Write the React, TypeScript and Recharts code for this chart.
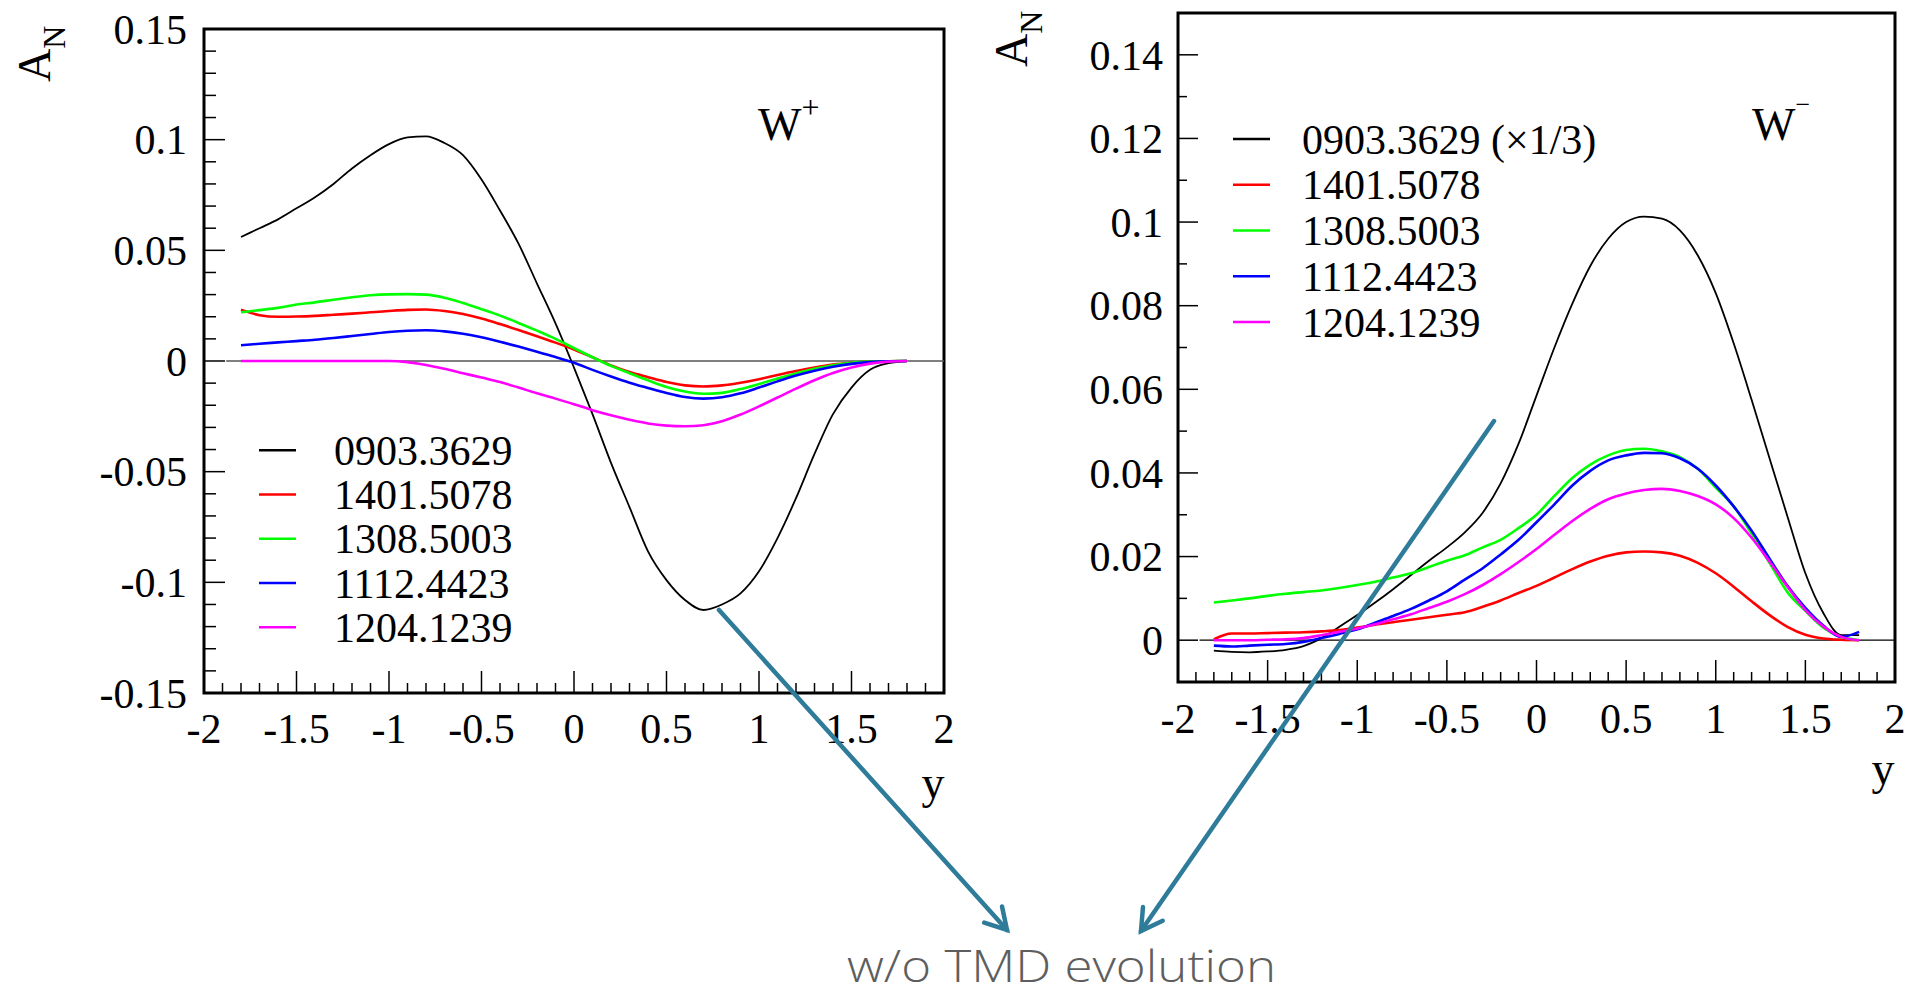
import React from 'react';
import { LineChart, Line, XAxis, YAxis, ReferenceLine, ReferenceArea, Legend, Label } from 'recharts';

// ---------- data ----------
const yRapidity = [-1.8, -1.7, -1.6, -1.5, -1.4, -1.3, -1.2, -1.1, -1.0, -0.9, -0.8, -0.7, -0.6, -0.5, -0.4, -0.3, -0.2, -0.1, 0, 0.1, 0.2, 0.3, 0.4, 0.5, 0.6, 0.7, 0.8, 0.9, 1.0, 1.1, 1.2, 1.3, 1.4, 1.5, 1.6, 1.7, 1.8];

// W+ panel
const wPlus0903 = [0.056, 0.060, 0.064, 0.069, 0.074, 0.080, 0.087, 0.093, 0.098, 0.101, 0.1015, 0.0985, 0.093, 0.082, 0.068, 0.053, 0.035, 0.017, -0.003, -0.024, -0.046, -0.066, -0.086, -0.099, -0.108, -0.1125, -0.110, -0.105, -0.095, -0.080, -0.062, -0.042, -0.024, -0.012, -0.004, -0.001, 0];
const wPlus1401 = [0.0232, 0.0207, 0.0200, 0.0201, 0.0204, 0.0209, 0.0214, 0.0220, 0.0226, 0.0231, 0.0233, 0.0226, 0.0212, 0.0192, 0.0167, 0.0140, 0.0112, 0.0083, 0.0052, 0.0017, -0.0020, -0.0050, -0.0073, -0.0095, -0.0110, -0.0115, -0.0110, -0.0098, -0.0082, -0.0063, -0.0045, -0.0029, -0.0016, -0.0008, -0.0003, -0.0001, 0];
const wPlus1308 = [0.0220, 0.0230, 0.0240, 0.0255, 0.0265, 0.0277, 0.0288, 0.0297, 0.0301, 0.0302, 0.0300, 0.0286, 0.0262, 0.0234, 0.0205, 0.0172, 0.0137, 0.0100, 0.0058, 0.0017, -0.0022, -0.0055, -0.0087, -0.0117, -0.0138, -0.0148, -0.0144, -0.0127, -0.0104, -0.0079, -0.0056, -0.0035, -0.0019, -0.0008, -0.0003, -0.0001, 0];
const wPlus1112 = [0.0071, 0.0078, 0.0084, 0.0090, 0.0096, 0.0104, 0.0113, 0.0122, 0.0131, 0.0137, 0.0139, 0.0134, 0.0123, 0.0107, 0.0087, 0.0065, 0.0042, 0.0018, -0.0008, -0.0040, -0.0070, -0.0098, -0.0122, -0.0145, -0.0163, -0.0170, -0.0164, -0.0146, -0.0120, -0.0092, -0.0066, -0.0044, -0.0026, -0.0013, -0.0005, -0.0001, 0];
const wPlus1204 = [0, 0, 0, 0, 0, 0, 0, 0, 0, -0.0005, -0.0018, -0.0035, -0.0055, -0.0075, -0.0095, -0.0120, -0.0146, -0.0170, -0.0195, -0.0222, -0.0245, -0.0265, -0.0282, -0.0292, -0.0295, -0.0290, -0.0272, -0.0242, -0.0205, -0.0165, -0.0125, -0.0087, -0.0054, -0.0029, -0.0012, -0.0003, 0];

// W- panel
const wMinus0903 = [-0.0025, -0.0028, -0.0029, -0.0027, -0.0023, -0.0014, 0.0005, 0.0032, 0.0060, 0.0090, 0.0122, 0.0156, 0.0190, 0.0222, 0.0258, 0.0305, 0.0375, 0.0470, 0.0585, 0.0700, 0.0805, 0.0895, 0.0960, 0.1000, 0.1013, 0.1008, 0.0980, 0.0920, 0.0830, 0.0710, 0.0575, 0.0435, 0.0296, 0.0160, 0.0065, 0.0012, 0.0012];
const wMinus1401 = [0.0002, 0.0016, 0.0016, 0.0017, 0.0018, 0.0019, 0.0021, 0.0024, 0.0030, 0.0037, 0.0043, 0.0049, 0.0055, 0.0061, 0.0067, 0.0080, 0.0095, 0.0113, 0.0130, 0.0150, 0.0170, 0.0188, 0.0202, 0.0210, 0.0212, 0.0210, 0.0202, 0.0185, 0.0160, 0.0128, 0.0093, 0.0060, 0.0032, 0.0013, 0.0004, 0.0001, 0];
const wMinus1308 = [0.0090, 0.0095, 0.0100, 0.0106, 0.0111, 0.0115, 0.0119, 0.0125, 0.0132, 0.0140, 0.0150, 0.0160, 0.0175, 0.0190, 0.0203, 0.0222, 0.0240, 0.0268, 0.0300, 0.0345, 0.0388, 0.0420, 0.0442, 0.0455, 0.0458, 0.0452, 0.0438, 0.0410, 0.0365, 0.0320, 0.0255, 0.0185, 0.0115, 0.0070, 0.0030, 0.0008, 0];
const wMinus1112 = [-0.0013, -0.0015, -0.0013, -0.0011, -0.0009, -0.0004, 0.0005, 0.0015, 0.0026, 0.0042, 0.0058, 0.0075, 0.0095, 0.0117, 0.0145, 0.0172, 0.0205, 0.0240, 0.0282, 0.0325, 0.0370, 0.0405, 0.0430, 0.0442, 0.0448, 0.0447, 0.0435, 0.0410, 0.0370, 0.0320, 0.0262, 0.0195, 0.0130, 0.0077, 0.0035, 0.0008, 0.0020];
const wMinus1204 = [0, 0, 0, 0.0001, 0.0002, 0.0005, 0.0012, 0.0020, 0.0028, 0.0038, 0.0050, 0.0062, 0.0077, 0.0092, 0.0110, 0.0132, 0.0158, 0.0187, 0.0218, 0.0252, 0.0285, 0.0314, 0.0337, 0.0351, 0.0359, 0.0362, 0.0357, 0.0345, 0.0325, 0.0292, 0.0245, 0.0188, 0.0128, 0.0072, 0.0033, 0.0008, 0];

const seriesKeys = ['s0', 's1', 's2', 's3', 's4'];
const seriesColors = ['#000000', '#ff0000', '#00ff00', '#0000ff', '#ff00ff'];
const seriesWidths = [1.8, 2.6, 2.6, 2.6, 2.6];
const namesPlus = ['0903.3629', '1401.5078', '1308.5003', '1112.4423', '1204.1239'];
const namesMinus = ['0903.3629 (×1/3)', '1401.5078', '1308.5003', '1112.4423', '1204.1239'];

// tick labels
const xMajorValues = [-2, -1.5, -1, -0.5, 0, 0.5, 1, 1.5, 2];
const xMajorLabels = ['-2', '-1.5', '-1', '-0.5', '0', '0.5', '1', '1.5', '2'];
const plusYMajorValues = [-0.15, -0.1, -0.05, 0, 0.05, 0.1, 0.15];
const plusYMajorLabels = ['-0.15', '-0.1', '-0.05', '0', '0.05', '0.1', '0.15'];
const minusYMajorValues = [0, 0.02, 0.04, 0.06, 0.08, 0.1, 0.12, 0.14];
const minusYMajorLabels = ['0', '0.02', '0.04', '0.06', '0.08', '0.1', '0.12', '0.14'];

const xTicks: number[] = [];
for (let i = -20; i <= 20; i++) xTicks.push(i / 10);
const plusYTicks: number[] = [];
for (let i = -15; i <= 15; i++) plusYTicks.push(i / 100);
const minusYTicks: number[] = [];
for (let i = -1; i <= 15; i++) minusYTicks.push(i / 100);

const buildRows = (cols: number[][]) =>
  yRapidity.map((x, i) => {
    const r: any = { x };
    cols.forEach((c, k) => (r[seriesKeys[k]] = c[i]));
    return r;
  });

const plusRows = buildRows([wPlus0903, wPlus1401, wPlus1308, wPlus1112, wPlus1204]);
const minusRows = buildRows([wMinus0903, wMinus1401, wMinus1308, wMinus1112, wMinus1204]);

// ---------- styling helpers ----------
const SERIF = "'Liberation Serif','Times New Roman',serif";
const TICK_FONT = 42;

const findMajor = (majors: number[], v: number) => majors.findIndex((m) => Math.abs(m - v) < 1e-9);

const makeYTick = (majors: number[], labels: string[], majorLen: number, minorLen: number, gap: number) =>
  function YTick(props: any) {
    const { x, y, payload } = props;
    const idx = findMajor(majors, payload.value);
    const len = idx >= 0 ? majorLen : minorLen;
    return (
      <g>
        <line x1={x} y1={y} x2={x + len} y2={y} stroke="#000" strokeWidth={1.5} />
        {idx >= 0 && (
          <text x={x - gap} y={y} dy="0.35em" textAnchor="end" fontFamily={SERIF} fontSize={TICK_FONT} fill="#000">
            {labels[idx]}
          </text>
        )}
      </g>
    );
  };

const makeXTick = (majorLen: number, minorLen: number, baseline: number) =>
  function XTick(props: any) {
    const { x, y, payload } = props;
    const idx = findMajor(xMajorValues, payload.value);
    const len = idx >= 0 ? majorLen : minorLen;
    return (
      <g>
        <line x1={x} y1={y} x2={x} y2={y - len} stroke="#000" strokeWidth={1.5} />
        {idx >= 0 && (
          <text x={x} y={y + baseline} textAnchor="middle" fontFamily={SERIF} fontSize={TICK_FONT} fill="#000">
            {xMajorLabels[idx]}
          </text>
        )}
      </g>
    );
  };

const makeLegend = (pitch: number, lineLen: number, textX: number) =>
  function LegendContent(props: any) {
    const items = [...(props.payload || [])].sort(
      (a: any, b: any) => seriesKeys.indexOf(a.dataKey) - seriesKeys.indexOf(b.dataKey)
    );
    return (
      <svg width={520} height={pitch * items.length} style={{ display: 'block', overflow: 'visible' }}>
        {items.map((it: any, i: number) => {
          const cy = pitch * (i + 0.5);
          return (
            <g key={i}>
              <line x1={0} x2={lineLen} y1={cy} y2={cy} stroke={it.color} strokeWidth={2.5} />
              <text x={textX} y={cy} dy="0.35em" fontFamily={SERIF} fontSize={TICK_FONT} fill="#000">
                {it.value}
              </text>
            </g>
          );
        })}
      </svg>
    );
  };

const ANLabel = ({ x, y }: { x: number; y: number }) => (
  <text x={x} y={y} transform={`rotate(-90 ${x} ${y})`} fontFamily={SERIF} fontSize={46} fill="#000">
    A
    <tspan fontSize={32} dy={15}>
      N
    </tspan>
  </text>
);

const YLabel = ({ x, y }: { x: number; y: number }) => (
  <text x={x} y={y} textAnchor="middle" fontFamily={SERIF} fontSize={46} fill="#000">
    y
  </text>
);

// ---------- panel ----------
type PanelProps = {
  rows: any[];
  names: string[];
  width: number;
  height: number;
  margin: { top: number; right: number; left: number; bottom: number };
  yAxisWidth: number;
  xAxisHeight: number;
  yDomain: [number, number];
  yTicks: number[];
  yTick: any;
  xTick: any;
  zeroStroke: string;
  legendPos: { left: number; top: number };
  legendPitch: number;
  legendTextX: number;
  anPos: { x: number; y: number };
  yPos: { x: number; y: number };
};

function Panel(p: PanelProps) {
  return (
    <LineChart width={p.width} height={p.height} data={p.rows} margin={p.margin}>
      <XAxis
        dataKey="x"
        type="number"
        domain={[-2, 2]}
        ticks={xTicks}
        interval={0}
        allowDataOverflow
        axisLine={false}
        tickLine={false}
        tickSize={0}
        tickMargin={0}
        height={p.xAxisHeight}
        tick={p.xTick}
      >
        <Label content={() => <YLabel x={p.yPos.x} y={p.yPos.y} />} />
      </XAxis>
      <YAxis
        type="number"
        domain={p.yDomain}
        ticks={p.yTicks}
        interval={0}
        allowDataOverflow
        axisLine={false}
        tickLine={false}
        tickSize={0}
        tickMargin={0}
        width={p.yAxisWidth}
        tick={p.yTick}
      >
        <Label content={() => <ANLabel x={p.anPos.x} y={p.anPos.y} />} />
      </YAxis>
      <ReferenceLine
        segment={[
          { x: -1.88, y: 0 },
          { x: 2, y: 0 },
        ]}
        stroke={p.zeroStroke}
        strokeWidth={1.3}
        ifOverflow="visible"
      />
      {seriesKeys.map((k, i) => (
        <Line
          key={k}
          dataKey={k}
          name={p.names[i]}
          type="monotone"
          stroke={seriesColors[i]}
          strokeWidth={seriesWidths[i]}
          dot={false}
          activeDot={false}
          isAnimationActive={false}
        />
      ))}
      <ReferenceArea
        x1={-2}
        x2={2}
        y1={p.yDomain[0]}
        y2={p.yDomain[1]}
        fill="none"
        fillOpacity={0}
        stroke="#000"
        strokeWidth={3}
        ifOverflow="visible"
      />
      <Legend
        layout="vertical"
        align="center"
        verticalAlign="middle"
        content={makeLegend(p.legendPitch, 37, p.legendTextX)}
        wrapperStyle={{ position: 'absolute', left: p.legendPos.left, top: p.legendPos.top, width: 520 }}
      />
    </LineChart>
  );
}

// ---------- annotation arrows ----------
const ARROW = '#2e7b9a';
function Arrow({ x1, y1, x2, y2 }: { x1: number; y1: number; x2: number; y2: number }) {
  const L = Math.hypot(x2 - x1, y2 - y1);
  const ux = (x2 - x1) / L;
  const uy = (y2 - y1) / L;
  const barb = (a: number) => {
    const bx = -ux * Math.cos(a) + uy * Math.sin(a);
    const by = -ux * Math.sin(a) - uy * Math.cos(a);
    return [x2 + 24 * bx, y2 + 24 * by];
  };
  const [ax, ay] = barb((30 * Math.PI) / 180);
  const [bx, by] = barb((-30 * Math.PI) / 180);
  return (
    <g stroke={ARROW} strokeWidth={4.5} strokeLinecap="round" fill="none">
      <line x1={x1} y1={y1} x2={x2} y2={y2} />
      <polyline points={`${ax},${ay} ${x2},${y2} ${bx},${by}`} strokeLinejoin="miter" />
    </g>
  );
}

export default function App() {
  return (
    <div style={{ position: 'absolute', left: 0, top: 0, width: 1905, height: 996, background: '#fff', overflow: 'hidden' }}>
      <div style={{ position: 'absolute', left: 0, top: 0 }}>
        <Panel
          rows={plusRows}
          names={namesPlus}
          width={980}
          height={830}
          margin={{ top: 29, right: 36, left: 0, bottom: 0 }}
          yAxisWidth={204}
          xAxisHeight={137}
          yDomain={[-0.15, 0.15]}
          yTicks={plusYTicks}
          yTick={makeYTick(plusYMajorValues, plusYMajorLabels, 21, 12, 17)}
          xTick={makeXTick(22, 10, 50)}
          zeroStroke="#555"
          legendPos={{ left: 259, top: 428 }}
          legendPitch={44.3}
          legendTextX={75}
          anPos={{ x: 50, y: 82 }}
          yPos={{ x: 933, y: 798 }}
        />
      </div>
      <div style={{ position: 'absolute', left: 980, top: 0 }}>
        <Panel
          rows={minusRows}
          names={namesMinus}
          width={925}
          height={830}
          margin={{ top: 13, right: 10, left: 0, bottom: 0 }}
          yAxisWidth={198}
          xAxisHeight={148}
          yDomain={[-0.01, 0.15]}
          yTicks={minusYTicks}
          yTick={makeYTick(minusYMajorValues, minusYMajorLabels, 20, 9, 15)}
          xTick={makeXTick(22, 10, 51)}
          zeroStroke="#000"
          legendPos={{ left: 253, top: 116 }}
          legendPitch={45.8}
          legendTextX={69}
          anPos={{ x: 47, y: 67 }}
          yPos={{ x: 903, y: 784 }}
        />
      </div>
      <svg width={1905} height={996} style={{ position: 'absolute', left: 0, top: 0, pointerEvents: 'none' }}>
        <text x={758} y={140} fontFamily={SERIF} fontSize={46} fill="#000">
          W
          <tspan fontSize={32} dy={-22}>+</tspan>
        </text>
        <text x={1752} y={140} fontFamily={SERIF} fontSize={46} fill="#000">
          W
          <tspan fontSize={26} dy={-27}>−</tspan>
        </text>
        <Arrow x1={719} y1={610} x2={1007} y2={930} />
        <Arrow x1={1494} y1={421} x2={1141} y2={931} />
        <text
          x={847}
          y={982}
          fontFamily="'Open Sans','Noto Sans',sans-serif"
          fontWeight={300}
          fontSize={44}
          fill="#5e5e5e"
          textLength={429}
          lengthAdjust="spacingAndGlyphs"
        >
          w/o TMD evolution
        </text>
      </svg>
    </div>
  );
}
